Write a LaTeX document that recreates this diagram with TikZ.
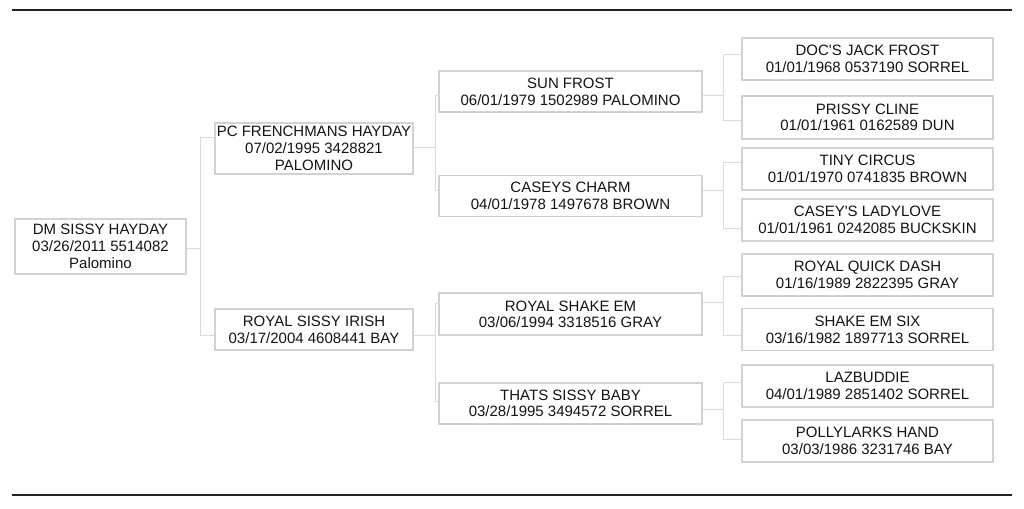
\documentclass[tikz,border=0pt]{standalone}
\usepackage{fontspec}
\setmainfont{Liberation Sans}[Ligatures=TeXOff]
\usetikzlibrary{calc}
\definecolor{boxline}{RGB}{210,210,210}
\definecolor{connline}{RGB}{218,218,218}
\definecolor{txt}{RGB}{20,20,20}
\definecolor{rule}{RGB}{35,35,35}
\tikzset{
  horse/.style 2 args={draw=boxline, line width=1.3pt, fill=white, inner sep=0pt,
    align=center, text=txt, font=\fontsize{11.25pt}{12.6pt}\selectfont,
    minimum width=#1*0.75pt, minimum height=#2*0.75pt},
  conn/.style={draw=connline, line width=0.75pt},
  hrule/.style={draw=rule, line width=1.6pt}
}
\begin{document}
\begin{tikzpicture}[x=0.75pt,y=-0.75pt]
\useasboundingbox (0,0) rectangle (1024,509);
\fill[white] (0,0) rectangle (1024,509);
% rules
\coordinate (tl) at (12,10); \coordinate (tr) at (1012,10);
\coordinate (bl) at (12,495); \coordinate (br) at (1012,495);
\draw[hrule] (tl) -- (tr);
\draw[hrule] (bl) -- (br);
% generation 1
\node[horse={171}{55}] (A) at (100.5,246.5) {DM SISSY HAYDAY\\03/26/2011 5514082\\Palomino};
% generation 2
\node[horse={198}{51}] (B) at (314,148.5) {PC FRENCHMANS HAYDAY\\07/02/1995 3428821\\PALOMINO};
\node[horse={198}{41}] (C) at (314,329.5) {ROYAL SISSY IRISH\\03/17/2004 4608441 BAY};
% generation 3
\node[horse={263}{41}] (D) at (570.5,91.5) {SUN FROST\\06/01/1979 1502989 PALOMINO};
\node[horse={263}{41}] (E) at (570.5,196) {CASEYS CHARM\\04/01/1978 1497678 BROWN};
\node[horse={263}{42}] (F) at (570.5,314.3) {ROYAL SHAKE EM\\03/06/1994 3318516 GRAY};
\node[horse={263}{41}] (G) at (570.5,403.3) {THATS SISSY BABY\\03/28/1995 3494572 SORREL};
% generation 4
\node[horse={251}{42}] (H) at (867.5,59.2) {DOC'S JACK FROST\\01/01/1968 0537190 SORREL};
\node[horse={251}{43}] (I) at (867.5,117.3) {PRISSY CLINE\\01/01/1961 0162589 DUN};
\node[horse={251}{42}] (J) at (867.5,169.2) {TINY CIRCUS\\01/01/1970 0741835 BROWN};
\node[horse={251}{42}] (K) at (867.5,220.2) {CASEY'S LADYLOVE\\01/01/1961 0242085 BUCKSKIN};
\node[horse={251}{42}] (L) at (867.5,275) {ROYAL QUICK DASH\\01/16/1989 2822395 GRAY};
\node[horse={251}{42}] (M) at (867.5,329.5) {SHAKE EM SIX\\03/16/1982 1897713 SORREL};
\node[horse={251}{42}] (N) at (867.5,386.2) {LAZBUDDIE\\04/01/1989 2851402 SORREL};
\node[horse={251}{42}] (O) at (867.5,440.8) {POLLYLARKS HAND\\03/03/1986 3231746 BAY};
% connection points
\coordinate (Aout) at ($(A.east)+(0,2.5)$);
\coordinate (Bin)  at ($(B.west)+(0,-10.8)$);
\coordinate (Cin)  at ($(C.west)+(0,6.5)$);
\coordinate (Bout) at ($(B.east)+(0,-1.2)$);
\coordinate (Cout) at ($(C.east)+(0,6.5)$);
\coordinate (Din)  at ($(D.west)+(0,4.2)$);
\coordinate (Ein)  at ($(E.west)+(0,-5.3)$);
\coordinate (Fin)  at ($(F.west)+(0,-11)$);
\coordinate (Gin)  at ($(G.west)+(0,-2.3)$);
\coordinate (Dout) at ($(D.east)+(0,4.2)$);
\coordinate (Eout) at ($(E.east)+(0,-5.3)$);
\coordinate (Fout) at ($(F.east)+(0,-12)$);
\coordinate (Gout) at ($(G.east)+(0,6)$);
\coordinate (Hin)  at ($(H.west)+(0,-4.9)$);
\coordinate (Iin)  at ($(I.west)+(0,3.4)$);
\coordinate (Jin)  at ($(J.west)+(0,-6.9)$);
\coordinate (Kin)  at ($(K.west)+(0,8.1)$);
\coordinate (Lin)  at ($(L.west)+(0,1.7)$);
\coordinate (Min)  at ($(M.west)+(0,6.5)$);
\coordinate (Nin)  at ($(N.west)+(0,-3.5)$);
\coordinate (Oin)  at ($(O.west)+(0,-1.5)$);
% connectors
\draw[conn] (Aout) -- ++(14,0) |- (Bin);
\draw[conn] (Aout) ++(14,0) |- (Cin);
\draw[conn] (Bout) -- ++(21.3,0) |- (Din);
\draw[conn] (Bout) ++(21.3,0) |- (Ein);
\draw[conn] (Cout) -- ++(21.3,0) |- (Fin);
\draw[conn] (Cout) ++(21.3,0) |- (Gin);
\draw[conn] (Dout) -- ++(20.7,0) |- (Hin);
\draw[conn] (Dout) ++(20.7,0) |- (Iin);
\draw[conn] (Eout) -- ++(20.7,0) |- (Jin);
\draw[conn] (Eout) ++(20.7,0) |- (Kin);
\draw[conn] (Fout) -- ++(20.7,0) |- (Lin);
\draw[conn] (Fout) ++(20.7,0) |- (Min);
\draw[conn] (Gout) -- ++(20.7,0) |- (Nin);
\draw[conn] (Gout) ++(20.7,0) |- (Oin);
\end{tikzpicture}
\end{document}
